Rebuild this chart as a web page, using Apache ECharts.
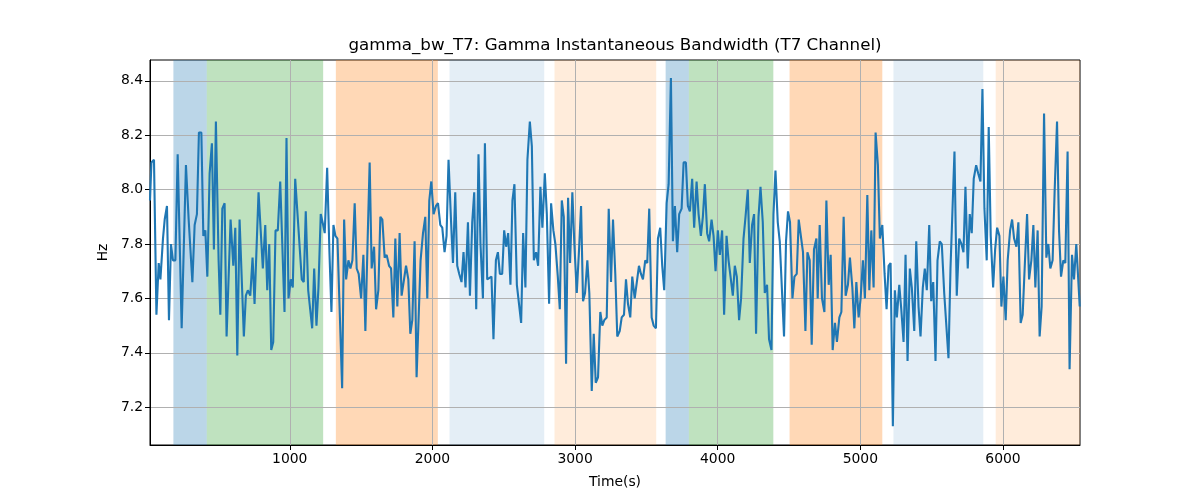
<!DOCTYPE html>
<html><head><meta charset="utf-8">
<script src="https://cdn.jsdelivr.net/npm/echarts@6/dist/echarts.min.js"></script>
<style>html,body{margin:0;padding:0;background:#fff}#c{width:1200px;height:500px}</style>
</head><body><div id="c"></div>
<script>
const titleText = 'gamma_bw_T7: Gamma Instantaneous Bandwidth (T7 Channel)';
const time = [
  20,30,39,48,65,81,93,111,123,139,153,167,181,198,214,242,272,291,317,333,349,363,380,394,408,422,438,454,468,482,501,513,527,543,557,585,604,618,632,648,678,692,706,723,739,753,781,811,828,842,856,870,884,900,916,933,
  963,977,991,1007,1021,1038,1052,1084,1098,1112,1129,1143,1157,1171,1187,1201,1217,1234,1245,1262,1278,1292,1306,1320,1334,1367,1381,1395,1411,1425,1439,1455,1469,1483,1500,1516,1530,1546,1560,1574,1591,1605,1621,1635,1649,1665,1679,1696,1710,1726,1740,1754,1770,1784,1815,1831,1845,1859,1875,1889,
  1917,1934,1950,1964,1978,1992,2008,2025,2039,2055,2069,2085,2099,2113,2130,2144,2160,2174,2188,2204,2218,2232,2249,2263,2279,2293,2307,2323,2337,2354,2368,2384,2398,2414,2428,2445,2459,2473,2489,2503,2517,2531,2547,2561,2575,2592,2606,2622,2636,2652,2666,2683,2697,2711,2727,2741,2757,2771,2788,2802,2818,
  2832,2848,2862,2879,2893,2907,2921,2937,2951,2965,2981,2995,3012,3028,3042,3056,3070,3086,3100,3117,3131,3145,3161,3177,3191,3205,3222,3236,3252,3266,3282,3296,3313,3327,3343,3357,3371,3387,3401,3418,3432,3448,3462,3476,3492,3506,3520,3537,3551,3567,3581,3597,3611,3625,3642,3656,3672,3686,3700,3716,3730,3747,3761,
  3777,3791,3805,3821,3835,3852,3866,3882,3896,3910,3926,3940,3957,3971,3985,4001,4015,4031,4045,4062,4076,4090,4106,4120,4134,4150,4164,4181,4195,4211,4225,4241,4255,4269,4286,4300,4316,4330,4346,4360,4377,4391,4405,4421,4435,4465,4479,4493,4507,4524,4538,4554,4568,4582,4598,4615,4629,4645,4659,4675,4692,
  4701,4715,4731,4748,4762,4778,4792,4806,4822,4836,4853,4867,4883,4897,4913,4927,4944,4958,4972,4988,5002,5018,5032,5049,5063,5077,5093,5107,5123,5137,5154,5170,5184,5198,5212,5228,5242,5256,5273,5287,5303,5317,5331,5347,5361,5378,5392,5408,5422,5438,5452,5466,5483,5497,5511,5527,5541,5557,5571,5588,5618,5632,
  5660,5676,5693,5709,5723,5737,5753,5767,5781,5795,5812,5826,5842,5856,5870,5886,5900,5914,5931,5945,5959,5975,5989,6003,6019,6033,6050,6064,6078,6094,6108,6124,6138,6152,6169,6183,6199,6213,6227,6243,6257,6271,6288,6304,6318,6332,6348,6362,6379,6393,6407,6423,6437,6453,6467,6484,6498,6514,6538
];
const hz = [
  7.96,8.10,8.10,8.11,7.54,7.73,7.67,7.82,7.89,7.94,7.52,7.80,7.74,7.74,8.13,7.49,8.09,7.89,7.66,7.87,7.91,8.21,8.21,7.83,7.85,7.68,8.06,8.17,7.78,8.25,7.74,7.54,7.93,7.95,7.46,7.89,7.72,7.86,7.39,7.89,7.46,7.61,7.63,7.61,7.75,7.58,7.99,7.71,7.87,7.63,7.80,7.41,7.44,7.85,7.85,8.03,
  7.55,8.19,7.60,7.67,7.64,8.04,8.04,7.67,7.66,7.92,7.63,7.63,7.49,7.71,7.50,7.64,7.91,7.87,7.84,8.08,7.77,7.55,7.87,7.83,7.82,7.27,7.89,7.67,7.74,7.71,7.74,7.95,7.71,7.69,7.60,7.76,7.48,7.82,8.10,7.71,7.79,7.56,7.63,7.90,7.89,7.75,7.76,7.72,7.71,7.53,7.82,7.57,7.84,7.61,7.72,7.67,7.47,7.52,7.81,7.31,
  7.74,7.84,7.90,7.60,7.96,8.03,7.91,7.94,7.95,7.87,7.86,7.77,7.83,8.11,7.89,7.73,7.99,7.72,7.69,7.66,7.77,7.64,7.88,7.61,7.88,7.99,7.56,8.13,7.80,7.60,8.17,7.67,7.67,7.68,7.45,7.74,7.77,7.69,7.69,7.85,7.79,7.84,7.65,7.96,8.02,7.65,7.65,7.51,7.84,7.64,8.11,8.25,8.16,7.74,7.77,7.72,8.01,7.86,8.06,7.91,7.58,
  7.95,7.85,7.80,7.68,7.56,7.96,7.90,7.36,7.97,7.73,7.99,7.80,7.62,7.78,7.94,7.59,7.62,7.74,7.62,7.26,7.47,7.29,7.31,7.55,7.50,7.52,7.53,7.93,7.66,7.89,7.69,7.46,7.48,7.53,7.54,7.67,7.58,7.53,7.68,7.60,7.60,7.72,7.69,7.67,7.74,7.73,7.93,7.53,7.50,7.49,7.82,7.86,7.72,7.63,7.95,8.02,8.41,7.81,7.94,7.77,7.91,7.93,8.10,
  8.10,7.94,7.92,8.04,7.86,8.03,7.91,7.83,7.90,8.02,7.84,7.81,7.89,7.83,7.70,7.85,7.76,7.85,7.54,7.83,7.74,7.68,7.61,7.72,7.68,7.52,7.60,7.82,7.90,8.00,7.73,7.87,7.91,7.47,7.90,8.01,7.88,7.62,7.65,7.45,7.41,7.91,8.07,7.88,7.81,7.46,7.81,7.92,7.88,7.60,7.68,7.69,7.89,7.89,7.77,7.48,7.77,7.74,7.43,7.78,7.82,
  7.60,7.87,7.60,7.55,7.96,7.65,7.76,7.41,7.51,7.44,7.53,7.55,7.90,7.61,7.65,7.75,7.64,7.49,7.66,7.53,7.60,7.74,7.60,7.98,7.63,7.85,7.64,8.21,8.09,7.82,7.87,7.69,7.56,7.72,7.73,7.13,7.63,7.53,7.65,7.56,7.44,7.76,7.37,7.71,7.64,7.48,7.81,7.57,7.46,7.64,7.71,7.63,7.87,7.59,7.66,7.37,7.74,7.81,7.80,7.62,7.38,7.71,
  8.14,7.61,7.82,7.80,7.77,8.01,7.71,7.91,7.84,8.04,8.09,8.06,8.03,8.37,7.93,7.74,8.23,7.83,7.64,7.78,7.86,7.83,7.57,7.68,7.52,7.74,7.85,7.89,7.82,7.79,7.88,7.51,7.54,7.71,7.91,7.67,7.74,7.87,7.64,7.85,7.46,7.57,8.28,7.75,7.80,7.71,7.74,7.99,8.25,7.85,7.68,7.74,7.73,8.14,7.34,7.76,7.67,7.80,7.57
];
const bandStart = [184, 418, 1323, 2120, 2856, 3635, 3798, 4504, 5232, 5949];
const bandEnd   = [418, 1234, 2038, 2784, 3569, 3798, 4390, 5154, 5862, 6540];
const bandKind  = ['blue','green','orange','lightblue','lightorange','blue','green','orange','lightblue','lightorange'];
const bandColor = {
  blue: 'rgba(31,119,180,0.3)', green: 'rgba(44,160,44,0.3)', orange: 'rgba(255,127,14,0.3)',
  lightblue: 'rgba(31,119,180,0.12)', lightorange: 'rgba(255,127,14,0.15)'
};
const xTicks = [1000, 2000, 3000, 4000, 5000, 6000];
const yTicks = [7.2, 7.4, 7.6, 7.8, 8.0, 8.2, 8.4];
const xRange = [20, 6540];
const yRange = [7.061, 8.4766];

const n = Math.min(time.length, hz.length);
const points = [];
for (let i = 0; i < n; i++) points.push([time[i], hz[i]]);
const areas = bandStart.map((s, i) => [
  { xAxis: s, itemStyle: { color: bandColor[bandKind[i]] } },
  { xAxis: bandEnd[i] }
]);
const font = 'DejaVu Sans';
const chart = echarts.init(document.getElementById('c'), null, { renderer: 'canvas' });
chart.setOption({
  animation: false,
  backgroundColor: '#ffffff',
  graphic: [{
    type: 'text', x: 615, y: 46, z: 10,
    style: { text: titleText, fill: '#000', font: '16.7px "DejaVu Sans"', textAlign: 'center', textVerticalAlign: 'middle' }
  }],
  grid: { left: 150, right: 120, top: 60, bottom: 55, show: true, borderColor: '#000', borderWidth: 1, backgroundColor: 'transparent' },
  xAxis: {
    type: 'value', min: xRange[0], max: xRange[1], z: 2,
    name: 'Time(s)', nameLocation: 'middle', nameGap: 30,
    nameTextStyle: { color: '#000', fontSize: 13.9, fontFamily: font },
    axisLine: { show: true, onZero: false, lineStyle: { color: '#000', width: 1 } },
    axisTick: { show: true, length: 5, customValues: xTicks, lineStyle: { color: '#000' } },
    axisLabel: { customValues: xTicks, color: '#000', fontSize: 13.9, fontFamily: font, margin: 7,
      formatter: v => String(Math.round(v)) },
    splitLine: { show: true, lineStyle: { color: '#b0b0b0', width: 1 } }
  },
  yAxis: {
    type: 'value', min: yRange[0], max: yRange[1], z: 2,
    name: 'Hz', nameLocation: 'middle', nameGap: 40,
    nameTextStyle: { color: '#000', fontSize: 13.9, fontFamily: font },
    axisLine: { show: true, onZero: false, lineStyle: { color: '#000', width: 1 } },
    axisTick: { show: true, length: 5, customValues: yTicks, lineStyle: { color: '#000' } },
    axisLabel: { customValues: yTicks, color: '#000', fontSize: 13.9, fontFamily: font, margin: 7,
      formatter: v => Number(v).toFixed(1) },
    splitLine: { show: true, lineStyle: { color: '#b0b0b0', width: 1 } }
  },
  series: [{
    type: 'line', data: points, symbol: 'none', showSymbol: false, z: 3,
    lineStyle: { color: '#1f77b4', width: 2.1 }, itemStyle: { color: '#1f77b4' },
    markArea: { silent: true, z: 1, data: areas, itemStyle: { borderWidth: 0 } }
  }]
});
</script></body></html>
